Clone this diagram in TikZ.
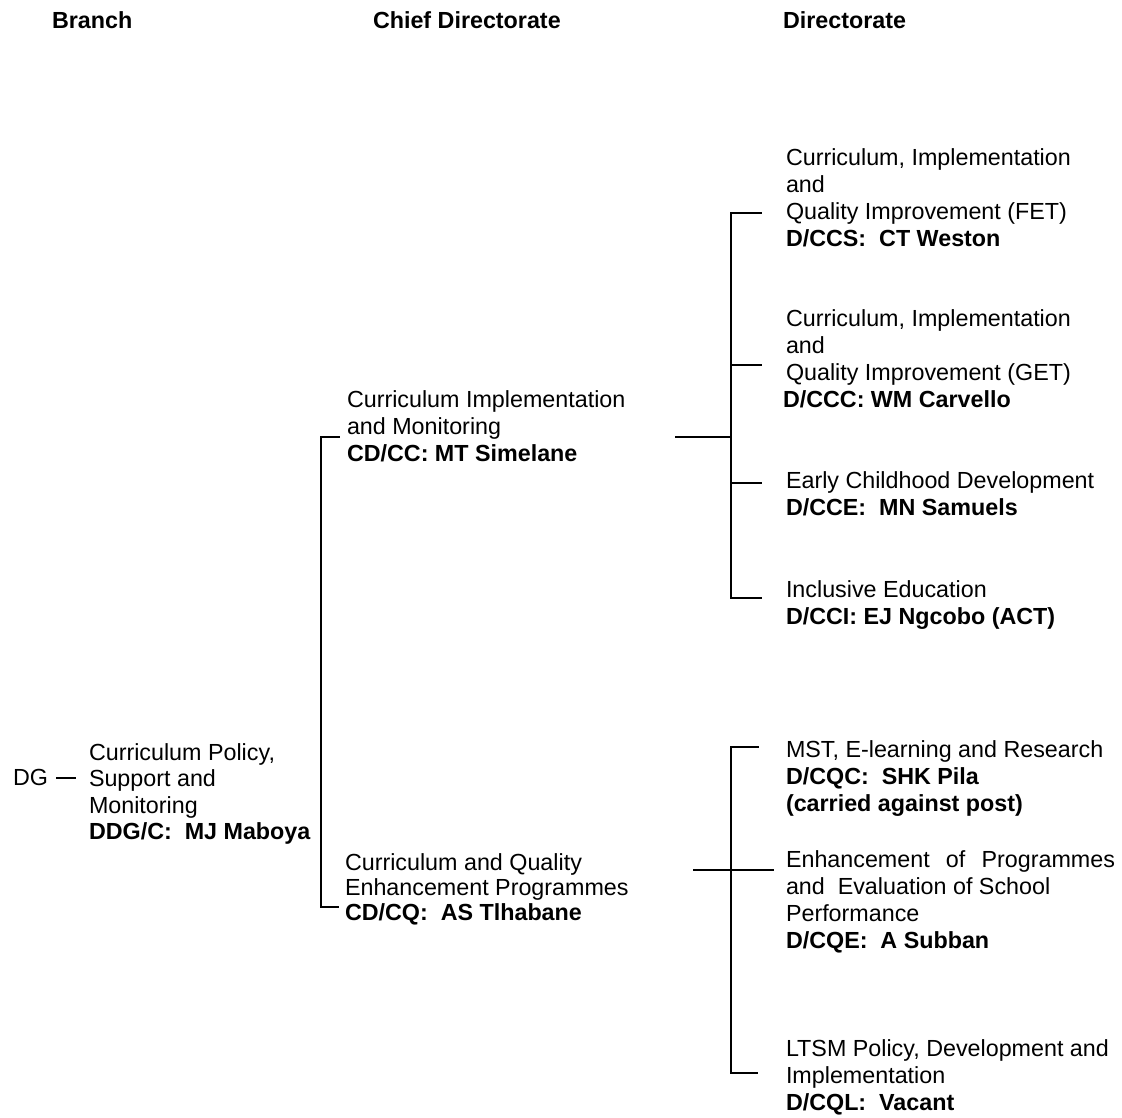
\documentclass[tikz,border=0pt]{standalone}
\usepackage{fontspec}
\setmainfont{Liberation Sans}
% one text line of a stacked label
\newcommand\rowtxt[1]{\hbox{\strut#1}}
% stacked label whose baseline is that of its first line
\newcommand\stackrows[1]{\vtop{\lineskiplimit=-100pt\lineskip=0pt\let\strut\relax#1}}
\begin{document}
\begin{tikzpicture}[x=1pt,y=-1pt,
  txt/.style={anchor=base west,inner sep=0pt,outer sep=0pt,
    font=\fontsize{23.3}{27}\selectfont},
  txtb/.style={txt,font=\fontsize{23.3}{26.5}\selectfont},
  txtc/.style={txt,font=\fontsize{23.3}{25}\selectfont},
  head/.style={txt,font=\bfseries\fontsize{23.3}{27}\selectfont},
  link/.style={draw=black,line width=1.3pt,line cap=rect}]
\useasboundingbox (0,0) rectangle (1122,1117);

% column headings
\node[head] (hbranch) at (52,28) {Branch};
\node[head] (hchief)  at (373,28) {Chief Directorate};
\node[head] (hdir)    at (783,28) {Directorate};

% branch level
\node[txt] (dg) at (13,785) {DG};
\node[txtb] (branch) at (89,760) {\stackrows{%
  \rowtxt{Curriculum Policy,}
  \rowtxt{Support and}
  \rowtxt{Monitoring}
  \rowtxt{\bfseries DDG/C:\ \ MJ Maboya}}};

% chief directorates
\node[txt] (cdA) at (347,407) {\stackrows{%
  \rowtxt{Curriculum Implementation}
  \rowtxt{and Monitoring}
  \rowtxt{\bfseries CD/CC: MT Simelane}}};
\node[txtc] (cdB) at (345,870) {\stackrows{%
  \rowtxt{Curriculum and Quality}
  \rowtxt{Enhancement Programmes}
  \rowtxt{\bfseries CD/CQ:\ \ AS Tlhabane}}};

% directorates under CD/CC
\node[txt] (dFET) at (786,165) {\stackrows{%
  \rowtxt{Curriculum, Implementation}
  \rowtxt{and}
  \rowtxt{Quality Improvement (FET)}
  \rowtxt{\bfseries D/CCS:\ \ CT Weston}}};
\node[txt] (dGET) at (786,326) {\stackrows{%
  \rowtxt{Curriculum, Implementation}
  \rowtxt{and}
  \rowtxt{Quality Improvement (GET)}
  \rowtxt{\kern-3pt\bfseries D/CCC: WM Carvello}}};
\node[txt] (dECD) at (786,488) {\stackrows{%
  \rowtxt{Early Childhood Development}
  \rowtxt{\bfseries D/CCE:\ \ MN Samuels}}};
\node[txt] (dIE) at (786,597) {\stackrows{%
  \rowtxt{Inclusive Education}
  \rowtxt{\bfseries D/CCI: EJ Ngcobo (ACT)}}};

% directorates under CD/CQ
\node[txt] (dMST) at (786,757) {\stackrows{%
  \rowtxt{MST, E-learning and Research}
  \rowtxt{\bfseries D/CQC:\ \ SHK Pila}
  \rowtxt{\bfseries (carried against post)}}};
\node[txt] (dEP) at (786,867) {\stackrows{%
  \hbox to 329pt{Enhancement\hfil of\hfil Programmes}
  \rowtxt{and\ \ Evaluation of School}
  \rowtxt{Performance}
  \rowtxt{\bfseries D/CQE:\ \ A Subban}}};
\node[txt] (dLTSM) at (786,1056) {\stackrows{%
  \rowtxt{LTSM Policy, Development and}
  \rowtxt{Implementation}
  \rowtxt{\bfseries D/CQL:\ \ Vacant}}};

% junction points of the connectors
\coordinate (dg-end)   at (57,778);
\coordinate (br-end)   at (75,778);
\coordinate (cdA-tip)  at (339,437);
\coordinate (cdB-tip)  at (338,907);
\coordinate (cd-top)   at (321,437);
\coordinate (cd-bot)   at (321,907);

\coordinate (cdA-out)  at (676,437);
\coordinate (sA-mid)   at (731,437);
\coordinate (sA-top)   at (731,213);
\coordinate (sA-get)   at (731,365);
\coordinate (sA-ecd)   at (731,483);
\coordinate (sA-bot)   at (731,598);
\coordinate (tFET)     at (761,213);
\coordinate (tGET)     at (761,365);
\coordinate (tECD)     at (761,483);
\coordinate (tIE)      at (761,598);

\coordinate (cdB-out)  at (694,870);
\coordinate (tEP)      at (773,870);
\coordinate (sB-top)   at (731,747);
\coordinate (sB-bot)   at (731,1073);
\coordinate (tMST)     at (758,747);
\coordinate (tLTSM)    at (757,1073);

% DG to branch
\draw[link] (dg-end) -- (br-end);
% branch spine to the chief directorates
\draw[link] (cdA-tip) -- (cd-top) -- (cd-bot) -- (cdB-tip);
% CD/CC to its directorates
\draw[link] (cdA-out) -- (sA-mid);
\draw[link] (tFET) -- (sA-top) -- (sA-bot) -- (tIE);
\draw[link] (sA-get) -- (tGET);
\draw[link] (sA-ecd) -- (tECD);
% CD/CQ to its directorates
\draw[link] (cdB-out) -- (tEP);
\draw[link] (tMST) -- (sB-top) -- (sB-bot) -- (tLTSM);
\end{tikzpicture}
\end{document}
